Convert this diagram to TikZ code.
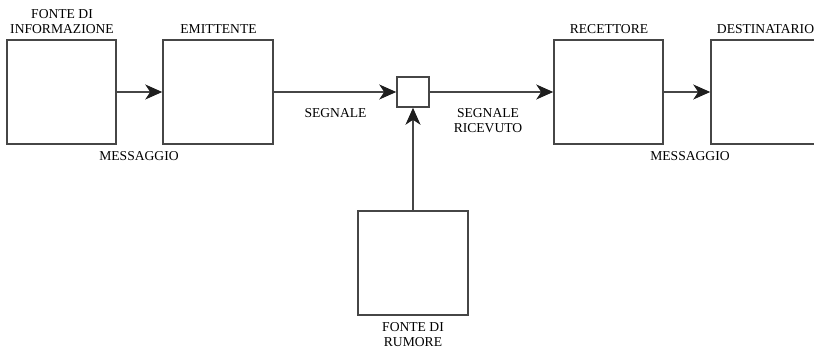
\documentclass[tikz,border=0pt]{standalone}
\usepackage{fontspec}
\setmainfont{Liberation Serif}
\usetikzlibrary{arrows.meta}
\definecolor{linec}{RGB}{70,70,70}
\definecolor{tipc}{RGB}{30,30,30}
\begin{document}
\begin{tikzpicture}[x=1pt,y=-1pt,
  blk/.style={draw=linec,line width=1.5pt,fill=white,inner sep=0pt},
  lbl/.style={font=\fontsize{13.6}{15}\selectfont,inner sep=0pt,anchor=base,align=center},
  conn/.style={draw=linec,line width=1.5pt,-{Stealth[length=17pt,width=15pt,inset=5pt,fill=tipc,color=tipc]}}]
\clip (0,0) rectangle (814,348);
\fill[white] (0,0) rectangle (814,348);
% boxes
\node[minimum width=109pt,minimum height=104pt,blk] (src) at (61.5,92) {};
\node[minimum width=110pt,minimum height=104pt,blk] (tx) at (218,92) {};
\node[minimum width=32pt,minimum height=30pt,blk] (ch) at (413,92) {};
\node[minimum width=109pt,minimum height=104pt,blk] (rx) at (608.5,92) {};
\node[minimum width=140pt,minimum height=104pt,blk] (dst) at (781,92) {};
\node[minimum width=110pt,minimum height=104pt,blk] (noise) at (413,263) {};
% connectors
\draw[conn] (src.east) -- (tx.west);
\draw[conn] (tx.east) -- (ch.west);
\draw[conn] (ch.east) -- (rx.west);
\draw[conn] (rx.east) -- (dst.west);
\draw[conn] (noise.north) -- (ch.south);
% labels
\node[lbl] (l1a) at (62,19) {FONTE DI};
\node[lbl] (l1b) at (62,34) {INFORMAZIONE};
\node[lbl] (l2) at (218.5,34) {EMITTENTE};
\node[lbl] (l3) at (139,160) {MESSAGGIO};
\node[lbl] (l4) at (335.5,117.5) {SEGNALE};
\node[lbl] (l5a) at (488,117.5) {SEGNALE};
\node[lbl] (l5b) at (488,132.5) {RICEVUTO};
\node[lbl] (l6) at (609,34) {RECETTORE};
\node[lbl] (l7) at (765.5,34) {DESTINATARIO};
\node[lbl] (l8) at (690,160) {MESSAGGIO};
\node[lbl] (l9a) at (413,331.5) {FONTE DI};
\node[lbl] (l9b) at (413,346) {RUMORE};
\end{tikzpicture}
\end{document}
